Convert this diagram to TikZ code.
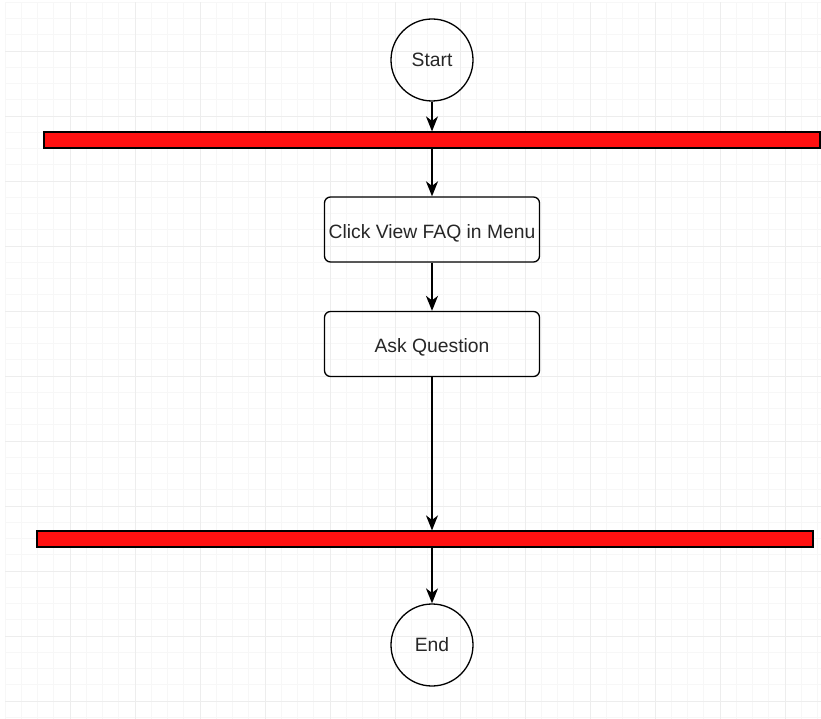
\documentclass[tikz,border=0pt]{standalone}
\usepackage{fontspec}
\setmainfont{Liberation Sans}
\usetikzlibrary{arrows.meta}
\definecolor{minorgrid}{RGB}{247,247,247}
\definecolor{majorgrid}{RGB}{237,237,237}
\definecolor{barred}{RGB}{255,17,17}

\begin{document}
\begin{tikzpicture}[x=1pt, y=-1pt,
	font=\fontsize{19.3}{23}\selectfont, text=black!85,
	terminal/.style={circle, draw, line width=1.3pt, minimum size=82pt, inner sep=0pt},
	action/.style={rectangle, rounded corners=6pt, draw, line width=1.3pt, minimum width=215pt, minimum height=65pt, inner sep=0pt, text height=17.5pt, text depth=0pt},
	forkbar/.style={rectangle, draw, line width=1.2pt, fill=barred, minimum width=776pt, minimum height=16pt, inner sep=0pt},
	flow/.style={-{Stealth[length=15pt, width=12pt, inset=4.5pt]}, line width=1.4pt}]
	\useasboundingbox (0,0) rectangle (821,719);
	\foreach \gx in {5,21.25,...,821} \draw[minorgrid, line width=0.8pt] (\gx,2.25) -- (\gx,719);
	\foreach \gy in {2.25,18.5,...,719} \draw[minorgrid, line width=0.8pt] (5,\gy) -- (821,\gy);
	\foreach \gx in {70,135,...,821} \draw[majorgrid, line width=0.8pt] (\gx,2.25) -- (\gx,719);
	\foreach \gy in {51,116,...,719} \draw[majorgrid, line width=0.8pt] (5,\gy) -- (821,\gy);
	
	\node(start)[terminal] at (432,60) {Start};
	\node(topbar)[forkbar] at (432,140) {};
	\node(faq)[action] at (432,229.5) {Click View FAQ in Menu};
	\node(ask)[action] at (432,344) {Ask Question};
	\node(botbar)[forkbar] at (425,539) {};
	\node(end)[terminal] at (432,645) {End};
	
	\draw[flow] (start) -- (start |- topbar.north);
	\draw[flow] (faq |- topbar.south) -- (faq);
	\draw[flow] (faq) -- (ask);
	\draw[flow] (ask) -- (ask |- botbar.north);
	\draw[flow] (end |- botbar.south) -- (end);
\end{tikzpicture}
\end{document}
